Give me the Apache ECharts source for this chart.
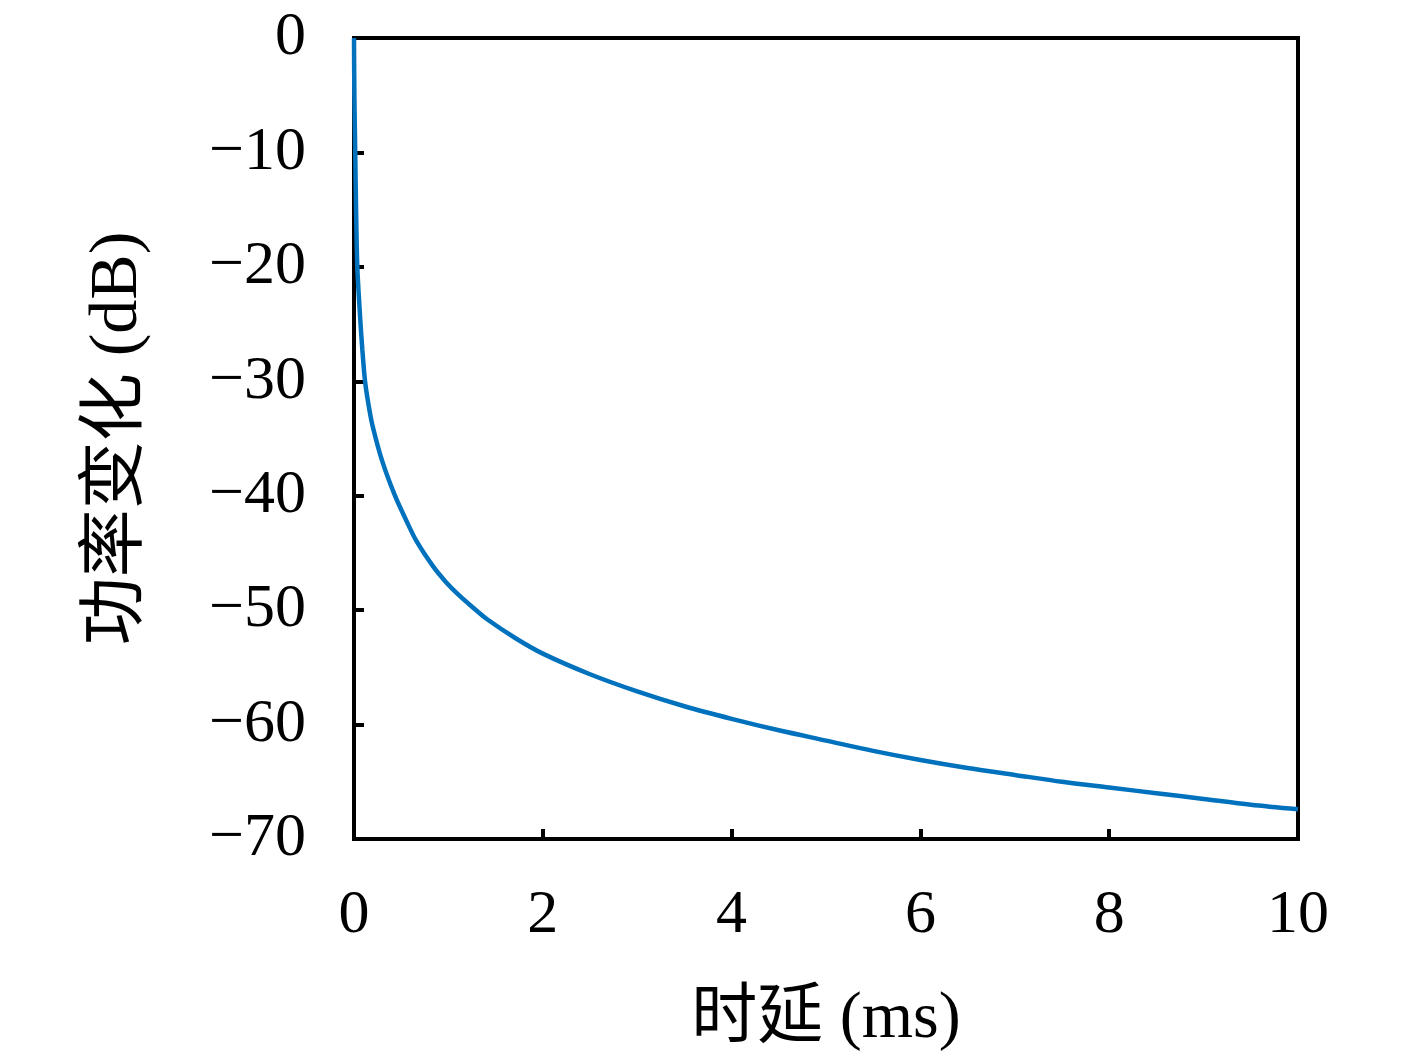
<!DOCTYPE html>
<html>
<head>
<meta charset="utf-8">
<script src="https://cdn.jsdelivr.net/npm/echarts@6/dist/echarts.min.js"></script>
<style>
  html, body { margin: 0; padding: 0; background: #fff; }
  #chart { width: 1417px; height: 1058px; }
</style>
</head>
<body>
<div id="chart"></div>
<script>
// 时延 (ms)
var delayMs = [0, 0.004, 0.013, 0.022, 0.035, 0.064, 0.088, 0.117, 0.155, 0.197, 0.3, 0.434, 0.55, 0.664, 0.84, 0.98, 1.1, 1.25, 1.41, 1.72, 2, 2.5, 3, 3.5, 4, 4.5, 5, 5.5, 6, 6.5, 7, 7.5, 8, 8.5, 9, 9.5, 10];
// 功率变化 (dB)
var powerDb = [0, -5, -10, -15, -20, -24.3, -27.2, -30, -32.1, -33.9, -37.0, -40, -42.1, -44.0, -46.2, -47.6, -48.6, -49.7, -50.8, -52.5, -53.8, -55.6, -57.1, -58.4, -59.5, -60.5, -61.4, -62.3, -63.1, -63.8, -64.4, -65.0, -65.5, -66.0, -66.5, -67.0, -67.4];
var xTicks = [0, 2, 4, 6, 8, 10];
var yTicks = [0, -10, -20, -30, -40, -50, -60, -70];

var chart = echarts.init(document.getElementById('chart'));

var pts = [];
for (var i = 0; i < delayMs.length; i++) {
    pts.push([delayMs[i], powerDb[i]]);
}

var serif = "'Liberation Serif', 'DejaVu Serif', 'Noto Sans CJK SC', serif";

chart.setOption({
    animation: false,
    grid: {
        left: 354, right: 119, top: 38, bottom: 218,
        show: true, borderColor: '#000', borderWidth: 4, backgroundColor: '#fff'
    },
    xAxis: {
        type: 'value',
        min: xTicks[0], max: xTicks[xTicks.length - 1], interval: 2,
        name: '时延 (ms)',
        nameLocation: 'middle',
        nameGap: 148,
        nameTextStyle: { fontFamily: serif, fontSize: 66, color: '#000' },
        axisLine: { onZero: false, lineStyle: { color: '#000', width: 4 } },
        axisTick: { inside: true, length: 10, lineStyle: { color: '#000', width: 4 } },
        axisLabel: { fontFamily: serif, fontSize: 62, color: '#000', margin: 46 },
        splitLine: { show: false }
    },
    yAxis: {
        type: 'value',
        min: yTicks[yTicks.length - 1], max: yTicks[0], interval: 10,
        name: '功率变化 (dB)',
        nameLocation: 'middle',
        nameGap: 202,
        nameTextStyle: { fontFamily: serif, fontSize: 68, color: '#000' },
        axisLine: { onZero: false, lineStyle: { color: '#000', width: 4 } },
        axisTick: { inside: true, length: 10, lineStyle: { color: '#000', width: 4 } },
        axisLabel: {
            fontFamily: serif, fontSize: 62, color: '#000', margin: 48,
            formatter: function (v) { return v < 0 ? '\u2212' + Math.abs(v) : String(v); }
        },
        splitLine: { show: false }
    },
    series: [{
        type: 'line',
        data: pts,
        showSymbol: false,
        smooth: 0.3,
        lineStyle: { color: '#0072BD', width: 4.5 },
        clip: true
    }]
});
</script>
</body>
</html>
